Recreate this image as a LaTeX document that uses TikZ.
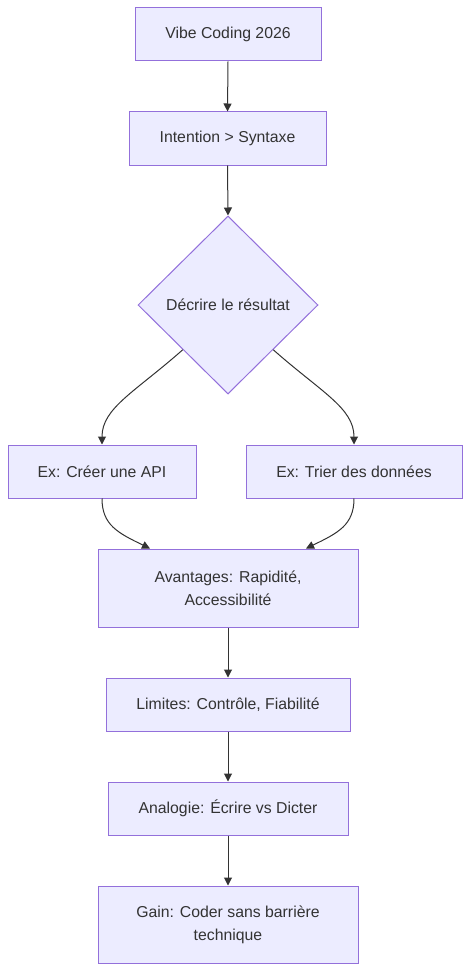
\documentclass[tikz,border=0pt]{standalone}
\usepackage{fontspec}
\setmainfont{Liberation Sans}
\usetikzlibrary{shapes.geometric,arrows.meta}
\definecolor{nodefill}{HTML}{ECECFF}
\definecolor{nodeborder}{HTML}{9370DB}
\definecolor{edgecol}{HTML}{333333}
\definecolor{txt}{HTML}{333333}
\tikzset{
  box/.style={draw=nodeborder,fill=nodefill,line width=1pt,text=txt,align=center,
    font=\fontsize{15.8}{23}\selectfont,inner sep=0pt},
  dia/.style={diamond,draw=nodeborder,fill=nodefill,line width=1pt,text=txt,
    font=\fontsize{15.8}{23}\selectfont,inner sep=0pt,minimum width=180pt,minimum height=178pt},
  edge/.style={draw=edgecol,line width=1pt,-{Triangle[length=8pt,width=8pt]}}
}
\begin{document}
\begin{tikzpicture}[x=1pt,y=-1pt]
\useasboundingbox (0,0) rectangle (470,971);
\node[box,minimum width=186pt,minimum height=53pt] (A) at (228,34.5) {Vibe Coding 2026};
\node[box,minimum width=197pt,minimum height=53pt] (B) at (227.5,138.5) {Intention > Syntaxe};
\node[dia] (C) at (228,305) {Décrire le résultat};
\node[box,minimum width=188pt,minimum height=53pt] (D) at (102,471.5) {Ex: Créer une API};
\node[box,minimum width=216pt,minimum height=53pt] (E) at (354,471.5) {Ex: Trier des données};
\node[box,minimum width=260pt,minimum height=78pt] (F) at (228,588) {Avantages: Rapidité,\\Accessibilité};
\node[box,minimum width=244pt,minimum height=53pt] (G) at (228,704.5) {Limites: Contrôle, Fiabilité};
\node[box,minimum width=240pt,minimum height=53pt] (H) at (228,808.5) {Analogie: Écrire vs Dicter};
\node[box,minimum width=260pt,minimum height=77pt] (I) at (228,924.5) {Gain: Coder sans barrière\\technique};
\draw[edge] (A.south) -- (B.north);
\draw[edge] (B.south) -- (C.north);
\draw[edge] (C.south west) .. controls (135,392) and (102,408) .. (D.north);
\draw[edge] (C.south east) .. controls (321,392) and (354,408) .. (E.north);
\draw[edge] (D.south) .. controls (102,525) and (118,533) .. (F.north -| 150,0);
\draw[edge] (E.south) .. controls (354,525) and (338,533) .. (F.north -| 306,0);
\draw[edge] (F.south) -- (G.north);
\draw[edge] (G.south) -- (H.north);
\draw[edge] (H.south) -- (I.north);
\end{tikzpicture}
\end{document}
